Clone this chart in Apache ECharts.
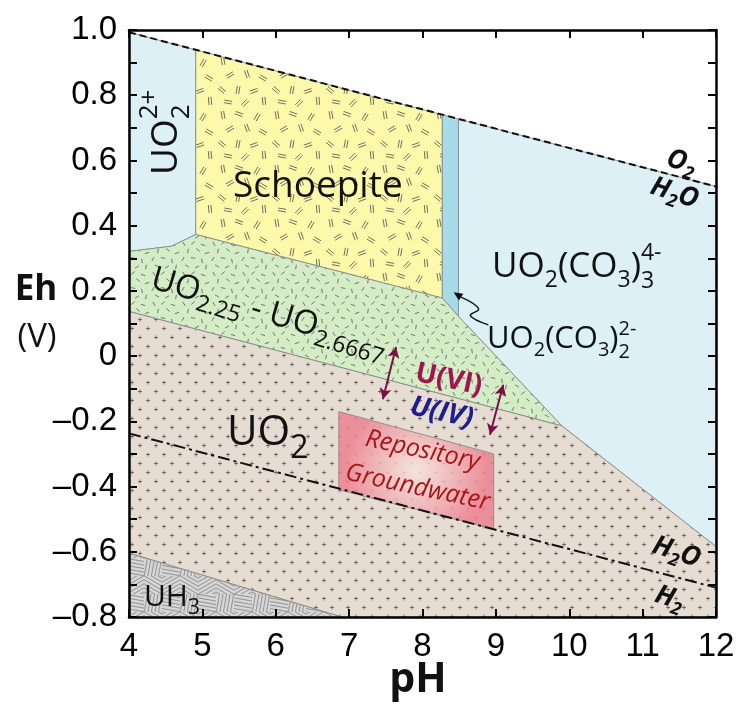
<!DOCTYPE html>
<html>
<head>
<meta charset="utf-8">
<script src="https://cdn.jsdelivr.net/npm/echarts@6/dist/echarts.min.js"></script>
<style>
html,body{margin:0;padding:0;background:#fff}
#main{width:740px;height:704px}
</style>
</head>
<body>
<div id="main"></div>
<script>
// stability field outlines, [pH, Eh (V)]
const o2Line = [[4, 0.993], [12, 0.520]];
const h2Line = [[4, -0.237], [12, -0.710]];
const uranylPts = [[4, 0.993], [4.91, 0.939], [4.91, 0.373], [4.58, 0.337], [4, 0.321]];
const schoepitePts = [[4.91, 0.939], [8.27, 0.740], [8.27, 0.178], [4.91, 0.373]];
const dicarbPts = [[8.27, 0.740], [8.49, 0.727], [8.49, 0.122], [8.27, 0.178]];
const tricarbPts = [[8.49, 0.727], [12, 0.520], [12, -0.584], [9.9, -0.214], [8.49, 0.122]];
const mixedOxidePts = [[4, 0.321], [4.58, 0.337], [4.91, 0.373], [8.27, 0.178], [8.49, 0.122], [9.9, -0.214], [4, 0.137]];
const uo2Pts = [[4, 0.137], [9.9, -0.214], [12, -0.584], [12, -0.8], [6.9, -0.8], [4, -0.604]];
const uh3Pts = [[4, -0.604], [6.9, -0.8], [4, -0.8]];
const groundwaterPts = [[6.86, -0.17], [8.97, -0.30], [8.97, -0.53], [6.86, -0.41]];
const arrowVI = [[7.64, 0.028], [7.46, -0.132]];
const arrowIV = [[9.10, -0.088], [8.92, -0.241]];
const squiggle = [[8.898, 0.096], [8.652, 0.124], [8.765, 0.145], [8.424, 0.196]];
const ehLabels = ['–0.8', '–0.6', '–0.4', '–0.2', '0', '0.2', '0.4', '0.6', '0.8', '1.0'];

// fill textures
function tile(w, h, bg, stroke, draw) {
    const c = document.createElement('canvas');
    c.width = w; c.height = h;
    const ctx = c.getContext('2d');
    ctx.fillStyle = bg;
    ctx.fillRect(0, 0, w, h);
    ctx.strokeStyle = stroke;
    ctx.lineWidth = 0.8;
    draw(ctx);
    return {image: c, repeat: 'repeat'};
}
function dash(ctx, x, y, a, len, dbl) {
    const r = a * Math.PI / 180, dx = Math.cos(r) * len / 2, dy = Math.sin(r) * len / 2;
    (dbl ? [-1.3, 1.3] : [0]).forEach(o => {
        const ox = -Math.sin(r) * o, oy = Math.cos(r) * o;
        ctx.beginPath();
        ctx.moveTo(x - dx + ox, y - dy + oy);
        ctx.lineTo(x + dx + ox, y + dy + oy);
        ctx.stroke();
    });
}
const yellowFill = tile(54, 54, '#fdf9ab', '#4a4a4a', ctx => {
    [[7,7,80],[23,6,20],[41,9,120],[14,21,150],[31,20,70],[47,24,30],[6,36,40],[22,36,100],
     [38,37,160],[48,47,85],[12,48,10],[29,49,135]].forEach(m => dash(ctx, m[0], m[1], m[2], 8, true));
});
const greenFill = tile(30, 30, '#d5edc6', '#555', ctx => {
    [[4,4,60],[13,3,140],[23,5,20],[8,11,100],[18,10,40],[27,13,160],[3,19,120],[13,18,10],
     [22,21,80],[7,26,30],[17,27,150],[26,27,100]].forEach(m => dash(ctx, m[0], m[1], m[2], 4.5, false));
});
const brownFill = tile(16, 18, '#e6dcd1', '#555', ctx => {
    [[4, 4.5], [12, 13.5]].forEach(p => {
        ctx.beginPath();
        ctx.moveTo(p[0] - 2, p[1]); ctx.lineTo(p[0] + 2, p[1]);
        ctx.moveTo(p[0], p[1] - 2); ctx.lineTo(p[0], p[1] + 2);
        ctx.stroke();
    });
});
const grayFill = tile(36, 36, '#d6d6d6', '#808080', ctx => {
    [[0,0,30],[18,0,150],[0,18,100],[18,18,10]].forEach(q => {
        ctx.save();
        ctx.beginPath(); ctx.rect(q[0], q[1], 18, 18); ctx.clip();
        const r = q[2] * Math.PI / 180;
        for (let k = -4; k <= 4; k++) {
            const cx = q[0] + 9 - Math.sin(r) * k * 3.5, cy = q[1] + 9 + Math.cos(r) * k * 3.5;
            ctx.beginPath();
            ctx.moveTo(cx - Math.cos(r) * 15, cy - Math.sin(r) * 15);
            ctx.lineTo(cx + Math.cos(r) * 15, cy + Math.sin(r) * 15);
            ctx.stroke();
        }
        ctx.restore();
    });
});
const pinkFill = {
    type: 'radial', x: 0.5, y: 0.5, r: 0.6,
    colorStops: [{offset: 0, color: 'rgba(246,230,224,0.85)'}, {offset: 1, color: 'rgba(236,132,146,0.88)'}]
};

const regions = [
    [uranylPts, '#dcf0f6'],
    [schoepitePts, yellowFill],
    [dicarbPts, '#a8dbe8'],
    [tricarbPts, '#dcf0f6'],
    [mixedOxidePts, greenFill],
    [uo2Pts, brownFill],
    [uh3Pts, grayFill],
    [groundwaterPts, pinkFill]
];

// text with sub/superscripts laid out piece by piece
const mctx = document.createElement('canvas').getContext('2d');
function formula(pieces, o) {
    let cx = 0;
    const kids = [];
    const fam = o.family || 'Open Sans';
    pieces.forEach(([t, s, dy = 0, stack = false]) => {
        mctx.font = (o.italic ? 'italic ' : '') + (o.bold ? 'bold ' : '') + s + 'px "' + fam + '"';
        const w = mctx.measureText(t).width;
        kids.push({
            type: 'text', x: cx, y: dy - 0.3 * s, z: 100,
            style: {
                text: t, fontSize: s, fontFamily: fam,
                fontWeight: o.bold ? 'bold' : 'normal', fontStyle: o.italic ? 'italic' : 'normal',
                fill: o.color || '#111', align: 'left', verticalAlign: 'middle'
            }
        });
        if (!stack) cx += w;
    });
    if (o.center) kids.forEach(k => { k.x -= cx / 2; });
    return {type: 'group', x: o.x, y: o.y, rotation: (o.rot || 0) * Math.PI / 180, children: kids, z: 100};
}

const labels = [
    formula([['UO', 37], ['2', 26, 11, true], ['2+', 26, -21]], {x: 178, y: 175, rot: 90}),
    formula([['Schoepite', 37]], {x: 233, y: 198}),
    formula([['UO', 35], ['2', 23, 9], ['(CO', 35], ['3', 23, 9], [')', 35], ['3', 23, 10, true], ['4-', 23, -18]], {x: 492, y: 278}),
    formula([['UO', 31], ['2', 20, 8], ['(CO', 31], ['3', 20, 8], [')', 31], ['2', 20, 10, true], ['2-', 20, -13]], {x: 487, y: 348}),
    formula([['UO', 33], ['2.25', 23, 8], [' - UO', 33], ['2.6667', 23, 8]], {x: 149, y: 288, rot: -16.5}),
    formula([['UO', 42], ['2', 32, 12]], {x: 227, y: 446}),
    formula([['U(VI)', 28]], {x: 447, y: 388, rot: -12, center: true, bold: true, color: '#a0154f'}),
    formula([['U(IV)', 28]], {x: 440, y: 421, rot: -12, center: true, bold: true, italic: true, color: '#1d1d8f'}),
    formula([['Repository', 25]], {x: 421, y: 458, rot: -12, center: true, italic: true, color: '#a51616'}),
    formula([['Groundwater', 25]], {x: 416, y: 495, rot: -12, center: true, italic: true, color: '#a51616'}),
    formula([['O', 27], ['2', 18, 6]], {x: 679, y: 170, rot: -18, center: true, bold: true, italic: true}),
    formula([['H', 27], ['2', 18, 6], ['O', 27]], {x: 672, y: 201, rot: -18, center: true, bold: true, italic: true}),
    formula([['H', 27], ['2', 18, 6], ['O', 27]], {x: 674, y: 560, rot: -18, center: true, bold: true, italic: true}),
    formula([['H', 27], ['2', 18, 6]], {x: 667, y: 606, rot: -18, center: true, bold: true, italic: true}),
    formula([['UH', 30], ['3', 21, 8]], {x: 144, y: 606}),
    formula([['Eh', 35]], {x: 36, y: 301, center: true, bold: true}),
    formula([['(V)', 33]], {x: 37, y: 347, center: true}),
    formula([['pH', 41]], {x: 418, y: 693, center: true, bold: true})
];

const axisLineStyle = {color: '#000', width: 2.5};
const tickStyle = {color: '#000', width: 2};
const tickLabel = {color: '#000', fontSize: 33, fontFamily: 'Liberation Sans'};

const chart = echarts.init(document.getElementById('main'));
chart.setOption({
    animation: false,
    grid: {left: 129, right: 24, top: 30, bottom: 87},
    xAxis: [{
        type: 'value', min: 4, max: 12, interval: 1, position: 'bottom', z: 10,
        axisLine: {onZero: false, lineStyle: axisLineStyle},
        axisTick: {inside: true, length: 8, lineStyle: tickStyle},
        axisLabel: Object.assign({margin: 13}, tickLabel),
        splitLine: {show: false}
    }, {
        type: 'value', min: 4, max: 12, interval: 1, position: 'top', z: 10,
        axisLine: {onZero: false, lineStyle: axisLineStyle},
        axisTick: {inside: true, length: 8, lineStyle: tickStyle},
        axisLabel: {show: false},
        splitLine: {show: false}
    }],
    yAxis: [{
        type: 'value', min: -0.8, max: 1.0, interval: 0.2, position: 'left', z: 10,
        axisLine: {onZero: false, lineStyle: axisLineStyle},
        axisTick: {inside: true, length: 8, lineStyle: tickStyle},
        minorTick: {show: true, splitNumber: 2, length: 8, lineStyle: tickStyle},
        axisLabel: Object.assign({margin: 12, formatter: v => ehLabels[Math.round((v + 0.8) / 0.2)]}, tickLabel),
        splitLine: {show: false}
    }, {
        type: 'value', min: -0.8, max: 1.0, interval: 0.2, position: 'right', z: 10,
        axisLine: {onZero: false, lineStyle: axisLineStyle},
        axisTick: {inside: true, length: 8, lineStyle: tickStyle},
        minorTick: {show: true, splitNumber: 2, length: 8, lineStyle: tickStyle},
        axisLabel: {show: false},
        splitLine: {show: false}
    }],
    series: regions.map(([pts, fill]) => ({
        type: 'custom',
        silent: true,
        z: 1,
        data: pts,
        renderItem: (params, api) => {
            if (params.dataIndex !== 0) return null;
            return {
                type: 'polygon',
                shape: {points: pts.map(p => api.coord(p))},
                style: {fill: fill, stroke: '#8a8a8a', lineWidth: 0.9}
            };
        }
    })).concat([{
        type: 'line', data: o2Line, symbol: 'none', silent: true, z: 5,
        lineStyle: {color: '#111', width: 2, type: [7, 4]}
    }, {
        type: 'line', data: h2Line, symbol: 'none', silent: true, z: 5,
        lineStyle: {color: '#111', width: 2, type: [12, 4, 3, 4]}
    }, {
        type: 'line', data: [], silent: true, z: 6,
        markLine: {
            silent: true,
            symbol: ['arrow', 'arrow'],
            symbolSize: [9, 11],
            lineStyle: {color: '#7a1044', width: 2, type: 'solid'},
            label: {show: false},
            emphasis: {disabled: true},
            data: [
                [{coord: arrowVI[0]}, {coord: arrowVI[1]}],
                [{coord: arrowIV[0]}, {coord: arrowIV[1]}]
            ]
        }
    }, {
        type: 'custom', silent: true, z: 6,
        data: squiggle,
        renderItem: (params, api) => {
            if (params.dataIndex !== 0) return null;
            const p = squiggle.map(d => api.coord(d));
            const tip = p[p.length - 1], prev = p[p.length - 2];
            const a = Math.atan2(tip[1] - prev[1], tip[0] - prev[0]);
            const bx = tip[0] - Math.cos(a) * 9, by = tip[1] - Math.sin(a) * 9;
            const head = [tip, [bx - Math.sin(a) * 4, by + Math.cos(a) * 4], [bx + Math.sin(a) * 4, by - Math.cos(a) * 4]];
            return {
                type: 'group',
                children: [
                    {type: 'polyline', shape: {points: p.slice(0, -1).concat([[bx, by]]), smooth: 0.4},
                     style: {stroke: '#111', lineWidth: 1.4, fill: null}},
                    {type: 'polygon', shape: {points: head}, style: {fill: '#111'}}
                ]
            };
        }
    }]),
    graphic: labels
});
window.addEventListener('resize', function () {
    chart.resize();
});
</script>
</body>
</html>
